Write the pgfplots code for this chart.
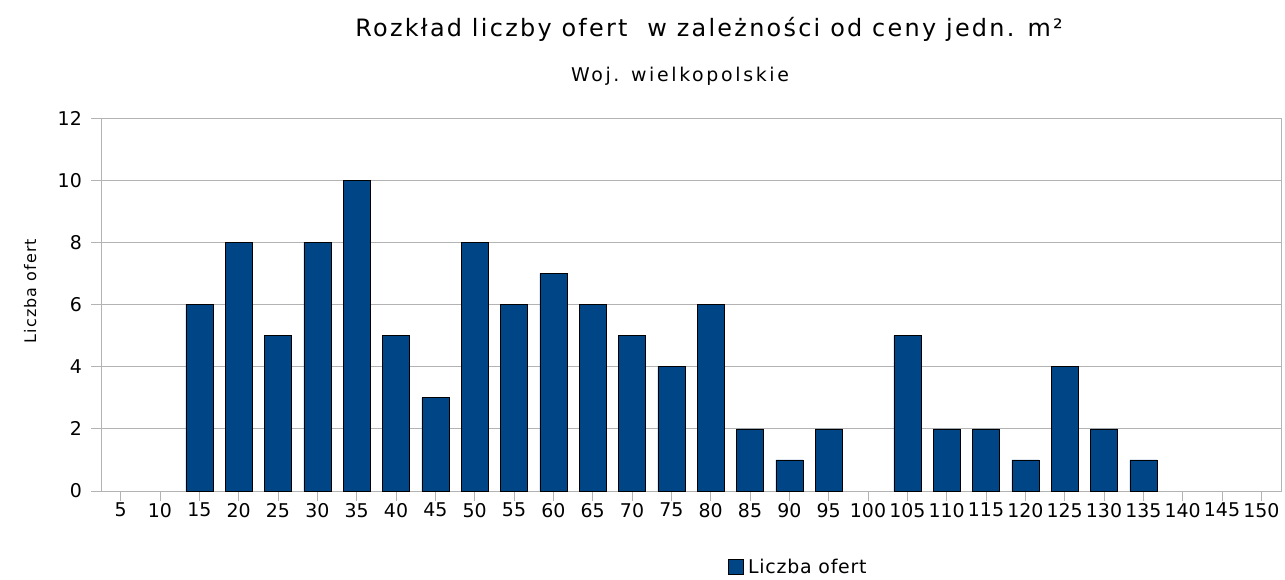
\documentclass[border=0pt]{standalone}
\usepackage{pgfplots}
\pgfplotsset{compat=1.18}
\usepackage{fontspec}
\setmainfont{DejaVu Sans}
\newfontfamily\titlefont[LetterSpace=9.5]{DejaVu Sans}
\newfontfamily\subfont[LetterSpace=14]{DejaVu Sans}
\newfontfamily\ylabfont[LetterSpace=7]{DejaVu Sans}
\newfontfamily\legfont[LetterSpace=4]{DejaVu Sans}
\definecolor{barblue}{HTML}{004586}
\definecolor{gridgray}{HTML}{B3B3B3}
\begin{document}
\begin{tikzpicture}[x=1bp,y=1bp]
\path[use as bounding box] (0,0) rectangle (1285,580);
\begin{axis}[
  at={(101bp,89bp)}, anchor=south west,
  scale only axis, width=1180bp, height=373bp,
  xmin=-0.5, xmax=29.5, ymin=0, ymax=12,
  ytick={0,2,...,12},
  xtick={0,...,29},
  xticklabels={5,10,15,20,25,30,35,40,45,50,55,60,65,70,75,80,85,90,95,100,105,110,115,120,125,130,135,140,145,150},
  ymajorgrids, grid style={gridgray, line width=0.8bp},
  axis line style={gridgray, line width=0.8bp},
  tick style={gridgray, line width=0.8bp},
  tick align=outside, major tick length=10bp,
  xtick pos=bottom, ytick pos=left,
  /pgf/number format/assume math mode=true,
  ticklabel style={font=\fontsize{19}{22}\selectfont, text=black},
  xticklabel style={inner sep=2bp},
  yticklabel style={inner sep=9bp},
  ylabel={\ylabfont Liczba ofert},
  ylabel style={font=\fontsize{16}{19}\selectfont, at={(axis description cs:-0.060,0.536)}, anchor=center},
  ybar, bar width=27bp,
  every axis plot post/.append style={legend image code/.code={\draw[fill=barblue, draw=black, line width=0.5bp] (0bp,-7.5bp) rectangle (15bp,7.5bp);}},
  legend style={draw=none, at={(0.592,-0.204)}, anchor=center, font=\fontsize{19}{22}\selectfont\legfont, inner sep=0pt, nodes={inner xsep=5bp}},
  clip=false,
]
\addplot[fill=barblue, draw=black, line width=0.6bp] coordinates {
(2,6) (3,8) (4,5) (5,8) (6,10) (7,5) (8,3) (9,8) (10,6) (11,7) (12,6) (13,5) (14,4) (15,6) (16,2) (17,1) (18,2) (20,5) (21,2) (22,2) (23,1) (24,4) (25,2) (26,1)};
\addlegendentry{Liczba ofert}
\end{axis}
\node[font=\fontsize{24}{28}\selectfont\titlefont, anchor=base] at (709,543) {Rozkład liczby ofert \ w zależności od ceny jedn. m²};
\node[font=\fontsize{19}{22}\selectfont\subfont, anchor=base] at (680,498) {Woj. wielkopolskie};
\end{tikzpicture}
\end{document}
